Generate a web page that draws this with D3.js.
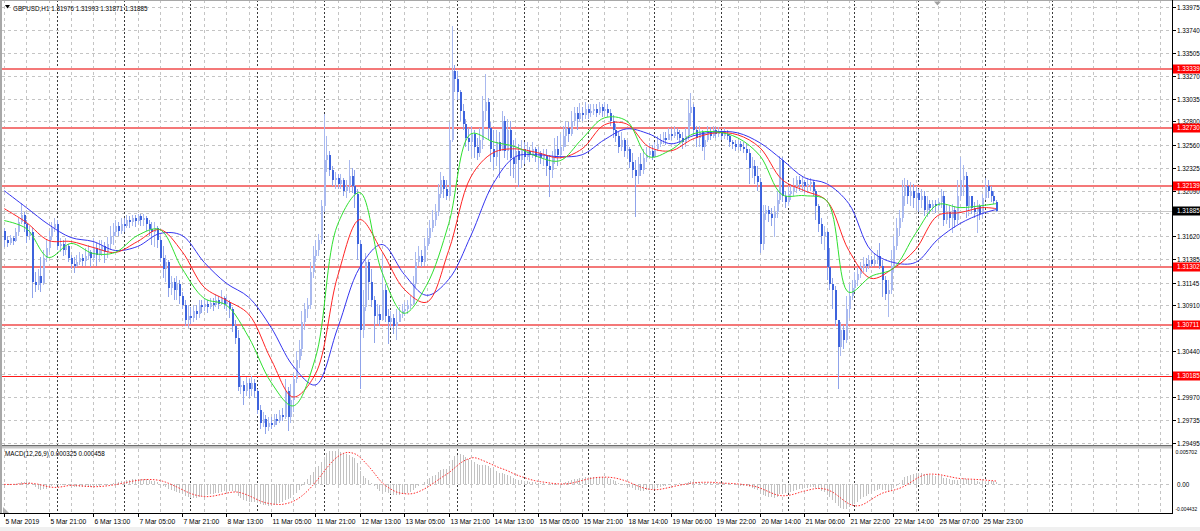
<!DOCTYPE html>
<html><head><meta charset="utf-8">
<script src="https://cdn.jsdelivr.net/npm/d3@7"></script>
<style>
body{margin:0;background:#fff;overflow:hidden}
svg{display:block}
text{font-family:"Liberation Sans",Arial,sans-serif}
</style>
</head><body>
<svg id="c" width="1200" height="531"></svg>
<script>
// ---------------- data ----------------
const symbolTitle = "GBPUSD,H1";
const headerValues = ["1.31976", "1.31993", "1.31871", "1.31885"];
const macdTitle = "MACD(12,26,9) 0.000325 0.000458";

const timeLabels = ["5 Mar 2019","5 Mar 21:00","6 Mar 13:00","7 Mar 05:00","7 Mar 21:00","8 Mar 13:00",
  "11 Mar 05:00","11 Mar 21:00","12 Mar 13:00","13 Mar 05:00","13 Mar 21:00","14 Mar 13:00",
  "15 Mar 05:00","15 Mar 21:00","18 Mar 14:00","19 Mar 06:00","19 Mar 22:00","20 Mar 14:00",
  "21 Mar 06:00","21 Mar 22:00","22 Mar 14:00","25 Mar 07:00","25 Mar 23:00"];
const timeLabelBars = [0,16,32,48,64,80,96,112,128,144,160,176,192,208,224,240,256,272,288,304,320,336,352];
const daySeparatorBars = [19,43,67,91,115,139,163,187,210,234,258,282,306,329,353,377];

const priceTicks = [1.33975,1.33740,1.33505,1.33270,1.33035,1.32800,1.32560,1.32325,1.32090,1.31855,
  1.31620,1.31385,1.31145,1.30910,1.30675,1.30440,1.30205,1.29970,1.29735,1.29495];
const levelLines = [1.33339,1.32730,1.32139,1.31302,1.30711,1.30185];
const levelLabels = ["1.33339","1.32730","1.32139","1.31302","1.30711","1.30185"];
const currentPrice = 1.31885;
const currentLabel = "1.31885";
const macdTicks = [0.005702, 0.0, -0.004432];
const macdTickLabels = ["0.005702", "0.00", "-0.004432"];

const firstOpen = 1.3168;
const lastOpen = 1.31976;
const closes = [
1.3158,1.3155,1.3160,1.3157,1.3166,1.3177,1.3184,1.3175,1.3162,1.3166,
1.3115,1.3112,1.3121,1.3114,1.3140,1.3150,1.3162,1.3171,1.3175,1.3152,
1.3154,1.3148,1.3152,1.3140,1.3134,1.3132,1.3136,1.3140,1.3137,1.3142,
1.3146,1.3140,1.3150,1.3143,1.3148,1.3152,1.3146,1.3154,1.3162,1.3166,
1.3173,1.3168,1.3175,1.3173,1.3179,1.3177,1.3181,1.3178,1.3183,1.3179,
1.3181,1.3175,1.3170,1.3166,1.3171,1.3158,1.3140,1.3128,1.3136,1.3109,
1.3115,1.3107,1.3113,1.3101,1.3091,1.3076,1.3080,1.3078,1.3085,1.3082,
1.3091,1.3089,1.3093,1.3089,1.3094,1.3091,1.3097,1.3093,1.3099,1.3093,
1.3095,1.3087,1.3070,1.3058,1.3007,1.3009,1.3003,1.3011,1.3005,1.3011,
1.3003,1.2984,1.2970,1.2974,1.2966,1.2970,1.2968,1.2974,1.2972,1.2978,
1.2976,1.3003,1.2976,1.2994,1.3015,1.3035,1.3046,1.3074,1.3087,1.3091,
1.3125,1.3142,1.3148,1.3158,1.3193,1.3240,1.3246,1.3230,1.3220,1.3222,
1.3216,1.3220,1.3209,1.3214,1.3224,1.3214,1.3205,1.3154,1.3066,1.3089,
1.3136,1.3115,1.3097,1.3080,1.3082,1.3076,1.3107,1.3080,1.3074,1.3078,
1.3070,1.3074,1.3082,1.3085,1.3087,1.3091,1.3093,1.3113,1.3136,1.3142,
1.3136,1.3152,1.3160,1.3171,1.3179,1.3187,1.3205,1.3220,1.3211,1.3203,
1.3261,1.3332,1.3324,1.3310,1.3291,1.3277,1.3263,1.3259,1.3267,1.3254,
1.3248,1.3261,1.3291,1.3300,1.3273,1.3252,1.3244,1.3259,1.3250,1.3281,
1.3250,1.3271,1.3242,1.3236,1.3250,1.3240,1.3252,1.3244,1.3250,1.3246,
1.3252,1.3244,1.3248,1.3242,1.3246,1.3234,1.3230,1.3242,1.3252,1.3246,
1.3254,1.3265,1.3273,1.3267,1.3281,1.3289,1.3283,1.3289,1.3287,1.3293,
1.3289,1.3291,1.3293,1.3289,1.3295,1.3291,1.3293,1.3289,1.3281,1.3271,
1.3265,1.3254,1.3261,1.3250,1.3252,1.3238,1.3230,1.3224,1.3236,1.3230,
1.3242,1.3246,1.3250,1.3244,1.3252,1.3257,1.3261,1.3263,1.3261,1.3267,
1.3265,1.3269,1.3267,1.3263,1.3259,1.3265,1.3289,1.3295,1.3271,1.3263,
1.3269,1.3254,1.3261,1.3269,1.3265,1.3271,1.3267,1.3269,1.3265,1.3267,
1.3265,1.3259,1.3257,1.3254,1.3257,1.3254,1.3252,1.3248,1.3232,1.3234,
1.3224,1.3218,1.3154,1.3185,1.3189,1.3185,1.3181,1.3187,1.3199,1.3240,
1.3203,1.3197,1.3205,1.3209,1.3214,1.3220,1.3216,1.3218,1.3214,1.3216,
1.3218,1.3209,1.3193,1.3175,1.3162,1.3166,1.3130,1.3113,1.3107,1.3076,
1.3048,1.3066,1.3056,1.3087,1.3101,1.3109,1.3117,1.3123,1.3130,1.3134,
1.3132,1.3138,1.3134,1.3138,1.3142,1.3132,1.3117,1.3103,1.3107,1.3132,
1.3152,1.3171,1.3181,1.3203,1.3214,1.3203,1.3209,1.3201,1.3207,1.3199,
1.3203,1.3189,1.3195,1.3191,1.3195,1.3193,1.3197,1.3203,1.3179,1.3187,
1.3181,1.3189,1.3179,1.3203,1.3220,1.3224,1.3193,1.3203,1.3191,1.3187,
1.3193,1.3185,1.3201,1.3214,1.3209,1.3203,1.3198,1.31885];
const highs = [
1.3171,1.3162,1.3163,1.3162,1.3171,1.3181,1.3196,1.3187,1.3179,1.3173,
1.3171,1.3125,1.3128,1.3141,1.3148,1.3158,1.3168,1.3177,1.3181,1.3179,
1.3160,1.3158,1.3160,1.3154,1.3143,1.3141,1.3143,1.3146,1.3144,1.3150,
1.3153,1.3148,1.3160,1.3155,1.3158,1.3158,1.3156,1.3161,1.3173,1.3176,
1.3179,1.3177,1.3181,1.3181,1.3184,1.3183,1.3184,1.3184,1.3185,1.3185,
1.3185,1.3183,1.3179,1.3177,1.3177,1.3173,1.3162,1.3152,1.3143,1.3138,
1.3121,1.3119,1.3121,1.3117,1.3105,1.3097,1.3091,1.3089,1.3091,1.3091,
1.3097,1.3097,1.3099,1.3097,1.3099,1.3099,1.3103,1.3101,1.3107,1.3101,
1.3101,1.3097,1.3089,1.3076,1.3066,1.3017,1.3013,1.3017,1.3015,1.3019,
1.3015,1.3005,1.2989,1.2982,1.2978,1.2976,1.2976,1.2979,1.2980,1.2984,
1.2986,1.3015,1.3007,1.3010,1.3022,1.3044,1.3056,1.3085,1.3094,1.3099,
1.3136,1.3152,1.3158,1.3164,1.3199,1.3288,1.3265,1.3250,1.3234,1.3228,
1.3226,1.3226,1.3222,1.3220,1.3240,1.3232,1.3230,1.3211,1.3158,1.3107,
1.3145,1.3138,1.3128,1.3101,1.3093,1.3091,1.3144,1.3113,1.3087,1.3085,
1.3082,1.3087,1.3089,1.3093,1.3095,1.3097,1.3101,1.3121,1.3146,1.3152,
1.3148,1.3160,1.3171,1.3179,1.3189,1.3195,1.3216,1.3228,1.3224,1.3220,
1.3279,1.3378,1.3338,1.3332,1.3312,1.3298,1.3283,1.3273,1.3275,1.3271,
1.3263,1.3273,1.3306,1.3329,1.3304,1.3279,1.3271,1.3271,1.3269,1.3291,
1.3286,1.3283,1.3281,1.3261,1.3263,1.3257,1.3261,1.3259,1.3259,1.3254,
1.3259,1.3254,1.3254,1.3250,1.3252,1.3252,1.3246,1.3250,1.3263,1.3265,
1.3267,1.3275,1.3281,1.3279,1.3291,1.3295,1.3295,1.3299,1.3295,1.3300,
1.3298,1.3298,1.3298,1.3298,1.3300,1.3298,1.3300,1.3298,1.3293,1.3287,
1.3277,1.3269,1.3269,1.3263,1.3261,1.3254,1.3248,1.3240,1.3244,1.3248,
1.3252,1.3254,1.3258,1.3256,1.3259,1.3265,1.3267,1.3269,1.3269,1.3273,
1.3273,1.3275,1.3273,1.3271,1.3269,1.3273,1.3302,1.3309,1.3298,1.3275,
1.3275,1.3271,1.3269,1.3275,1.3274,1.3275,1.3274,1.3274,1.3271,1.3273,
1.3271,1.3267,1.3261,1.3261,1.3261,1.3260,1.3259,1.3257,1.3252,1.3244,
1.3240,1.3234,1.3222,1.3194,1.3194,1.3193,1.3191,1.3193,1.3209,1.3245,
1.3243,1.3209,1.3214,1.3216,1.3222,1.3224,1.3224,1.3224,1.3220,1.3222,
1.3222,1.3220,1.3211,1.3195,1.3181,1.3173,1.3168,1.3150,1.3119,1.3111,
1.3076,1.3074,1.3071,1.3101,1.3113,1.3117,1.3125,1.3130,1.3136,1.3141,
1.3140,1.3143,1.3142,1.3144,1.3148,1.3155,1.3138,1.3121,1.3117,1.3148,
1.3162,1.3181,1.3189,1.3220,1.3222,1.3220,1.3218,1.3216,1.3214,1.3211,
1.3211,1.3209,1.3203,1.3199,1.3199,1.3199,1.3201,1.3211,1.3209,1.3195,
1.3193,1.3195,1.3193,1.3220,1.3243,1.3235,1.3228,1.3214,1.3203,1.3197,
1.3199,1.3195,1.3205,1.3222,1.3220,1.3214,1.3209,1.31993];
const lows = [
1.3151,1.3151,1.3153,1.3153,1.3156,1.3162,1.3175,1.3166,1.3155,1.3158,
1.3099,1.3105,1.3107,1.3105,1.3112,1.3136,1.3146,1.3158,1.3166,1.3148,
1.3146,1.3142,1.3143,1.3136,1.3128,1.3124,1.3130,1.3133,1.3132,1.3132,
1.3138,1.3131,1.3136,1.3132,1.3136,1.3142,1.3135,1.3140,1.3148,1.3153,
1.3162,1.3162,1.3164,1.3166,1.3171,1.3171,1.3173,1.3172,1.3175,1.3173,
1.3173,1.3168,1.3162,1.3153,1.3151,1.3150,1.3136,1.3119,1.3115,1.3100,
1.3102,1.3097,1.3097,1.3092,1.3087,1.3070,1.3068,1.3072,1.3074,1.3076,
1.3078,1.3083,1.3085,1.3083,1.3087,1.3085,1.3089,1.3087,1.3091,1.3087,
1.3085,1.3078,1.3064,1.3051,1.3003,1.3000,1.2989,1.2998,1.2996,1.2998,
1.2996,1.2979,1.2964,1.2966,1.2959,1.2962,1.2964,1.2966,1.2968,1.2970,
1.2972,1.2974,1.2962,1.2970,1.2982,1.3011,1.3027,1.3039,1.3066,1.3078,
1.3087,1.3119,1.3136,1.3142,1.3154,1.3187,1.3228,1.3224,1.3214,1.3211,
1.3211,1.3211,1.3203,1.3201,1.3207,1.3207,1.3191,1.3138,1.3005,1.3058,
1.3085,1.3097,1.3089,1.3052,1.3072,1.3070,1.3076,1.3074,1.3051,1.3068,
1.3062,1.3056,1.3074,1.3078,1.3080,1.3082,1.3087,1.3091,1.3109,1.3132,
1.3130,1.3132,1.3148,1.3154,1.3166,1.3173,1.3183,1.3201,1.3201,1.3199,
1.3201,1.3259,1.3310,1.3302,1.3281,1.3271,1.3254,1.3250,1.3244,1.3242,
1.3240,1.3244,1.3252,1.3281,1.3261,1.3238,1.3230,1.3234,1.3222,1.3250,
1.3242,1.3240,1.3224,1.3222,1.3220,1.3213,1.3232,1.3236,1.3240,1.3238,
1.3242,1.3238,1.3230,1.3236,1.3234,1.3224,1.3202,1.3222,1.3236,1.3234,
1.3242,1.3250,1.3254,1.3259,1.3265,1.3275,1.3271,1.3279,1.3281,1.3283,
1.3283,1.3285,1.3287,1.3285,1.3287,1.3285,1.3287,1.3285,1.3275,1.3263,
1.3259,1.3248,1.3250,1.3244,1.3242,1.3232,1.3222,1.3182,1.3216,1.3224,
1.3226,1.3238,1.3242,1.3240,1.3242,1.3250,1.3254,1.3257,1.3256,1.3261,
1.3261,1.3263,1.3261,1.3257,1.3252,1.3254,1.3261,1.3275,1.3265,1.3254,
1.3254,1.3250,1.3240,1.3259,1.3261,1.3263,1.3263,1.3264,1.3261,1.3262,
1.3261,1.3254,1.3252,1.3250,1.3251,1.3250,1.3248,1.3240,1.3216,1.3222,
1.3216,1.3209,1.3145,1.3148,1.3179,1.3177,1.3173,1.3161,1.3181,1.3195,
1.3197,1.3191,1.3193,1.3199,1.3203,1.3207,1.3209,1.3209,1.3207,1.3207,
1.3209,1.3203,1.3179,1.3166,1.3154,1.3148,1.3117,1.3107,1.3087,1.3070,
1.3005,1.3039,1.3046,1.3052,1.3078,1.3097,1.3105,1.3111,1.3119,1.3125,
1.3125,1.3128,1.3130,1.3132,1.3134,1.3128,1.3100,1.3097,1.3079,1.3103,
1.3125,1.3148,1.3162,1.3177,1.3193,1.3195,1.3193,1.3191,1.3189,1.3187,
1.3191,1.3183,1.3182,1.3185,1.3187,1.3186,1.3189,1.3191,1.3173,1.3175,
1.3171,1.3165,1.3171,1.3175,1.3199,1.3203,1.3181,1.3183,1.3185,1.3181,
1.3165,1.3179,1.3181,1.3199,1.3201,1.3197,1.3195,1.31871];

// moving averages at every 8th bar (and the last bar)
const maBars = [0,8,16,24,32,40,48,56,64,72,80,88,96,104,112,120,128,136,144,152,160,168,176,184,192,
  200,208,216,224,232,240,248,256,264,272,280,288,296,304,312,320,328,336,344,352,357];
const maBlue = [1.32089,1.31915,1.31741,1.31608,1.31567,1.31475,1.31516,1.31649,1.31629,1.31352,
  1.31137,1.30994,1.30687,1.30287,1.30093,1.30676,1.31301,1.31536,1.31229,1.31014,
  1.31178,1.31629,1.32161,1.32438,1.32458,1.32438,1.32458,1.32612,1.32724,1.32673,
  1.32571,1.32653,1.32694,1.32683,1.32581,1.32407,1.32223,1.32161,1.31956,1.31475,
  1.31352,1.31352,1.31588,1.31751,1.31854,1.31895];
const maRed = [1.31905,1.31762,1.31577,1.31567,1.31506,1.31455,1.31567,1.31690,1.31465,1.31096,
  1.30963,1.30820,1.30359,1.29970,1.30205,1.31209,1.31792,1.31465,1.31076,1.30943,
  1.31475,1.32233,1.32479,1.32519,1.32479,1.32427,1.32519,1.32765,1.32775,1.32540,
  1.32499,1.32622,1.32683,1.32663,1.32530,1.32202,1.32089,1.31987,1.31475,1.31188,
  1.31291,1.31485,1.31833,1.31864,1.31915,1.31905];
const maGreen = [1.31782,1.31700,1.31403,1.31547,1.31444,1.31455,1.31629,1.31690,1.31291,1.30983,
  1.30912,1.30584,1.30123,1.29878,1.30369,1.31741,1.32069,1.31250,1.30830,1.31117,
  1.31751,1.32673,1.32591,1.32540,1.32438,1.32397,1.32622,1.32837,1.32806,1.32438,
  1.32509,1.32673,1.32694,1.32632,1.32448,1.32048,1.32038,1.31987,1.31045,1.31209,
  1.31291,1.31649,1.31946,1.31915,1.31936,1.31956];

// ---------------- build ----------------
const N = closes.length;
const opens = closes.map((c, i) => i === 0 ? firstOpen : (i === N - 1 ? lastOpen : closes[i - 1]));
const bars = closes.map((c, i) => ({i, o: opens[i], h: Math.max(highs[i], opens[i], c), l: Math.min(lows[i], opens[i], c), c}));

// MACD(12,26,9) from the closes
function ema(arr, n) { const k = 2 / (n + 1); const out = []; arr.forEach((v, i) => out.push(i ? out[i - 1] + k * (v - out[i - 1]) : v)); return out; }
const e12 = ema(closes, 12), e26 = ema(closes, 26);
const macd = closes.map((_, i) => e12[i] - e26[i]);
const signal = macd.map((_, i) => d3.mean(macd.slice(Math.max(0, i - 8), i + 1)));

const W = 1200, H = 531;
const axisX = 1172.5;
const mainTop = 0, mainBottom = 445;
const subTop = 448.5, subBottom = 513;
const fs = "6.3px";

const x = d3.scaleLinear().domain([0, 416]).range([4.2, 4.2 + 416 * 2.7784]);
const y = d3.scaleLinear().domain([1.29495, 1.33975]).range([443.2, 7.1]);
const ym = d3.scaleLinear().domain([-0.004432, 0.005702]).range([511.5, 449.5]);

const svg = d3.select("#c");
svg.append("rect").attr("width", W).attr("height", H).attr("fill", "#fff");

const defs = svg.append("defs");
defs.append("clipPath").attr("id", "clipMain").append("rect").attr("x", 2).attr("y", 0).attr("width", axisX - 2).attr("height", mainBottom);
defs.append("clipPath").attr("id", "clipSub").append("rect").attr("x", 2).attr("y", subTop).attr("width", axisX - 2).attr("height", subBottom - subTop);

const grid = svg.append("g").attr("shape-rendering", "crispEdges");
d3.range(0, 417, 8).forEach(b => {
  const xx = Math.round(x(b)) + 0.5;
  [[mainTop, mainBottom], [subTop, subBottom]].forEach(([a, z]) => {
    grid.append("line").attr("x1", xx).attr("x2", xx).attr("y1", a).attr("y2", z)
      .attr("stroke", "#c4c4c4").attr("stroke-dasharray", "3,3");
  });
});
priceTicks.forEach(p => {
  const yy = Math.round(y(p)) + 0.5;
  grid.append("line").attr("x1", 2).attr("x2", axisX).attr("y1", yy).attr("y2", yy)
    .attr("stroke", "#c4c4c4").attr("stroke-dasharray", "3,3");
});
grid.append("line").attr("x1", 2).attr("x2", axisX).attr("y1", Math.round(ym(0)) + 0.5).attr("y2", Math.round(ym(0)) + 0.5)
  .attr("stroke", "#c4c4c4").attr("stroke-dasharray", "3,3");
daySeparatorBars.forEach(b => {
  const xx = Math.round(x(b)) + 0.5;
  [[mainTop, mainBottom], [subTop, subBottom]].forEach(([a, z]) => {
    grid.append("line").attr("x1", xx).attr("x2", xx).attr("y1", a).attr("y2", z)
      .attr("stroke", "#3a3a3a").attr("stroke-dasharray", "2,2");
  });
});

const lv = svg.append("g").attr("shape-rendering", "crispEdges");
levelLines.forEach((p, k) => {
  const yy = Math.round(y(p));
  const last = k === levelLines.length - 1;
  lv.append("line").attr("x1", 2).attr("x2", axisX).attr("y1", last ? yy + 0.5 : yy).attr("y2", last ? yy + 0.5 : yy)
    .attr("stroke", last ? "#ff1a1a" : "#f47878").attr("stroke-width", last ? 1 : 2);
});
lv.append("line").attr("x1", 2).attr("x2", axisX).attr("y1", Math.round(y(currentPrice)) + 0.5).attr("y2", Math.round(y(currentPrice)) + 0.5)
  .attr("stroke", "#c8c8c8");

const bullColor = "#a9b9ef", bearColor = "#3d63dd", wickColor = "#a9b9ef";
const cg = svg.append("g").attr("clip-path", "url(#clipMain)").attr("shape-rendering", "crispEdges");
bars.forEach(d => {
  const xx = Math.round(x(d.i));
  const bull = d.c >= d.o;
  cg.append("line").attr("x1", xx + 0.5).attr("x2", xx + 0.5).attr("y1", y(d.h)).attr("y2", y(d.l))
    .attr("stroke", bull ? wickColor : "#8fa3ea").attr("stroke-width", 1);
  const top = y(Math.max(d.o, d.c)), bot = y(Math.min(d.o, d.c));
  cg.append("rect").attr("x", xx - 0.5).attr("y", top).attr("width", 2).attr("height", Math.max(1, bot - top))
    .attr("fill", bull ? bullColor : bearColor);
});

const maG = svg.append("g").attr("clip-path", "url(#clipMain)");
const maLine = d3.line().x(d => x(d[0])).y(d => y(d[1])).curve(d3.curveCatmullRom.alpha(0.5));
[[maBlue, "#3535f0"], [maRed, "#ff2424"], [maGreen, "#2fe02f"]].forEach(([arr, col]) => {
  maG.append("path").attr("d", maLine(maBars.map((b, k) => [b, arr[k]])))
    .attr("fill", "none").attr("stroke", col).attr("stroke-width", 1);
});

svg.append("rect").attr("x", 0).attr("y", 445).attr("width", axisX).attr("height", 1.5).attr("fill", "#6e6e6e");
svg.append("rect").attr("x", 0).attr("y", 446.5).attr("width", axisX).attr("height", 2).attr("fill", "#c8c8c8");

const sg = svg.append("g").attr("clip-path", "url(#clipSub)");
const hg = sg.append("g").attr("shape-rendering", "crispEdges");
macd.forEach((v, i) => {
  const xx = Math.round(x(i)) + 0.5;
  hg.append("line").attr("x1", xx).attr("x2", xx).attr("y1", ym(0)).attr("y2", ym(v)).attr("stroke", "#c2c2c2");
});
sg.append("path").attr("d", d3.line().x((d, i) => x(i)).y(d => ym(d))(signal))
  .attr("fill", "none").attr("stroke", "#ff2a2a").attr("stroke-width", 1).attr("stroke-dasharray", "1.5,1.5");

const fr = svg.append("g").attr("shape-rendering", "crispEdges");
fr.append("rect").attr("x", 0).attr("y", 0).attr("width", 2).attr("height", subBottom).attr("fill", "#a8a8a8");
fr.append("line").attr("x1", 0).attr("x2", W).attr("y1", 0.5).attr("y2", 0.5).attr("stroke", "#a8a8a8");
fr.append("line").attr("x1", axisX).attr("x2", axisX).attr("y1", 0).attr("y2", subBottom).attr("stroke", "#000");
fr.append("line").attr("x1", 0).attr("x2", axisX).attr("y1", subBottom + 0.5).attr("y2", subBottom + 0.5).attr("stroke", "#000");
svg.append("rect").attr("x", 0).attr("y", 527).attr("width", W).attr("height", 4).attr("fill", "#f0f0f0");

// price axis (tick labels hidden behind a coloured label are skipped)
const ax = svg.append("g");
const labelled = levelLines.concat([currentPrice]).map(p => Math.round(y(p)));
priceTicks.forEach(p => {
  const yy = Math.round(y(p)) + 0.5;
  ax.append("line").attr("x1", axisX).attr("x2", axisX + 3).attr("y1", yy).attr("y2", yy).attr("stroke", "#000").attr("shape-rendering", "crispEdges");
  const near = d3.min(labelled, v => Math.abs(v - yy));
  if (near < 4.5) return;
  ax.append("text").attr("x", axisX + 4.5).attr("y", yy).attr("dy", "0.35em").attr("font-size", fs).attr("fill", "#000").text(d3.format(".5f")(p));
});
levelLines.forEach((p, k) => {
  const yy = Math.round(y(p));
  ax.append("rect").attr("x", axisX + 0.5).attr("y", yy - 4.5).attr("width", W - axisX).attr("height", 9).attr("fill", "#ff0000");
  ax.append("text").attr("x", axisX + 4.5).attr("y", yy).attr("dy", "0.35em").attr("font-size", fs).attr("fill", "#fff").text(levelLabels[k]);
});
{
  const yy = Math.round(y(currentPrice));
  ax.append("rect").attr("x", axisX + 0.5).attr("y", yy - 4.5).attr("width", W - axisX).attr("height", 9).attr("fill", "#000");
  ax.append("text").attr("x", axisX + 4.5).attr("y", yy).attr("dy", "0.35em").attr("font-size", fs).attr("fill", "#fff").text(currentLabel);
}
const macdFs = ["5.2px", fs, "4.8px"];
macdTicks.forEach((v, k) => {
  let yy = ym(v);
  if (k === 0) yy = 452.5; if (k === 2) yy = 509;
  ax.append("text").attr("x", k === 1 ? axisX + 4.5 : axisX + 3).attr("y", yy).attr("dy", "0.35em")
    .attr("font-size", macdFs[k]).attr("fill", "#000").text(macdTickLabels[k]);
});

timeLabelBars.forEach((b, k) => {
  const xx = Math.round(x(b)) + 0.5;
  ax.append("line").attr("x1", xx).attr("x2", xx).attr("y1", subBottom).attr("y2", subBottom + 4).attr("stroke", "#000").attr("shape-rendering", "crispEdges");
  ax.append("text").attr("x", xx + 1).attr("y", 523.5).attr("font-size", "6.7px").attr("fill", "#000").text(timeLabels[k]);
});

svg.append("path").attr("d", "M5,5 L10,5 L7.5,8.5 Z").attr("fill", "#000");
svg.append("text").attr("x", 13).attr("y", 10.5).attr("font-size", fs).attr("fill", "#000")
  .text(symbolTitle + "  " + headerValues.join(" "));
svg.append("text").attr("x", 5).attr("y", 455.5).attr("font-size", fs).attr("fill", "#000").text(macdTitle);
svg.append("path").attr("d", "M934,1.5 L941,1.5 L937.5,5.5 Z").attr("fill", "#a0a0a0");
svg.append("path").attr("d", "M3,507 L3,513 L9,513 Z").attr("fill", "#b0b0b0");
</script>
</body></html>
